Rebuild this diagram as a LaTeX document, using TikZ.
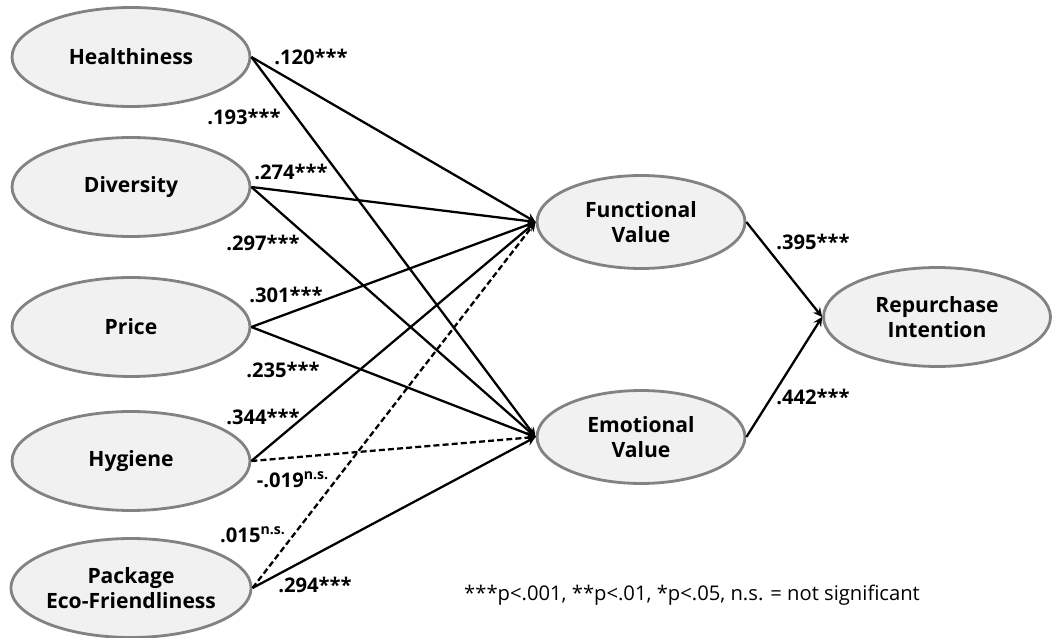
\documentclass[tikz,border=0pt]{standalone}
\usepackage{fontspec}
\setmainfont{Open Sans}
\usetikzlibrary{arrows,positioning,shapes.geometric}
\definecolor{ovalfill}{RGB}{241,241,241}
\definecolor{ovaldraw}{RGB}{130,130,130}
\tikzstyle{latent}=[ellipse,draw=ovaldraw,fill=ovalfill,line width=1.6pt,minimum width=4.76cm,minimum height=1.98cm,inner sep=0pt,align=center,font=\fontsize{12}{14.5}\selectfont\bfseries]
\tikzstyle{coef}=[inner sep=0pt,font=\fontsize{11.5}{13}\selectfont\bfseries]
\tikzstyle{ns}=[dash pattern=on 3.4pt off 1.8pt]
\tikzset{every picture/.style={line width=1.3pt}}
\begin{document}
\begin{tikzpicture}[x=0.02cm,y=-0.02cm]
\useasboundingbox (0,0) rectangle (1052,638);
% antecedents
\node[latent] (HE) at (131,57) {Healthiness};
\node[latent] (DI) at (131,187) {Diversity};
\node[latent] (PR) at (131,327) {Price};
\node[latent] (HY) at (131,461) {Hygiene};
\node[latent] (PA) at (131,588) {Package\\Eco-Friendliness};
% mediators and outcome
\node[latent,minimum width=4.16cm,minimum height=1.86cm] (FV) at (641,222) {Functional\\Value};
\node[latent,minimum width=4.16cm,minimum height=1.86cm] (EV) at (641,437) {Emotional\\Value};
\node[latent,minimum width=4.54cm] (RI) at (937,317) {Repurchase\\Intention};
% paths
\path[->,>=stealth]
(HE.east) edge (FV.west)
(HE.east) edge (EV.west)
(DI.east) edge (FV.west)
(DI.east) edge (EV.west)
(PR.east) edge (FV.west)
(PR.east) edge (EV.west)
(HY.east) edge (FV.west)
(HY.east) edge[ns] (EV.west)
(PA.east) edge[ns] (FV.west)
(PA.east) edge (EV.west)
(FV.east) edge (RI.west)
(EV.east) edge (RI.west);
% coefficients
\node[coef] (c1) at (311,57) {.120***};
\node[coef] (c2) at (244,117) {.193***};
\node[coef] (c3) at (291,172) {.274***};
\node[coef] (c4) at (263,243) {.297***};
\node[coef] (c5) at (286,295) {.301***};
\node[coef] (c6) at (283,370) {.235***};
\node[coef] (c7) at (263,417) {.344***};
\node[coef] (c8) at (293,480) {-.019\textsuperscript{n.s.}};
\node[coef] (c9) at (253,535) {.015\textsuperscript{n.s.}};
\node[coef] (c10) at (315,585) {.294***};
\node[coef] (c11) at (813,242) {.395***};
\node[coef] (c12) at (813,397) {.442***};
\node[font=\fontsize{11.5}{13}\selectfont] (note) at (692,595) {***p<.001, **p<.01, *p<.05, n.s. = not significant};
\end{tikzpicture}
\end{document}
